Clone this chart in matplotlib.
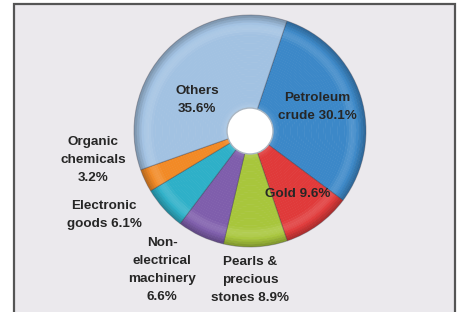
import numpy as np
import matplotlib
matplotlib.use("Agg")
import matplotlib.pyplot as plt
from matplotlib.patches import Rectangle, Wedge
from matplotlib.colors import to_rgb

labels = ["Petroleum\ncrude 30.1%", "Gold 9.6%", "Pearls &\nprecious\nstones 8.9%",
          "Non-\nelectrical\nmachinery\n6.6%", "Electronic\ngoods 6.1%",
          "Organic\nchemicals\n3.2%", "Others\n35.6%"]
shares = [30.1, 9.6, 8.9, 6.6, 6.1, 3.2, 35.6]
colors = ["#3c88c8", "#e03a3a", "#a8c63c", "#7f5eac", "#2eb0c8", "#f28a26", "#a2c2e2"]
# label anchor points in pixel space (x, y from top)
label_pos = [(317, 107), (298, 194), (250, 280), (162, 270), (104, 215), (93, 160), (197, 100)]

W, H = 461, 312
fig = plt.figure(figsize=(W / 100, H / 100), dpi=100)
fig.patch.set_facecolor("white")

# framed panel
fig.patches.append(Rectangle((14 / W, -0.05), (455 - 14) / W, (H - 3.5) / H + 0.05,
                             transform=fig.transFigure, facecolor="#ebe9ed",
                             edgecolor="#555555", linewidth=1.6, zorder=-5))

ax = fig.add_axes([0, 0, 1, 1])
ax.set_zorder(1)
ax.patch.set_visible(False)
ax.set_xlim(0, W)
ax.set_ylim(0, H)
ax.set_aspect("equal")
ax.axis("off")

cx, cy = 250, H - 131
r_out, r_in = 116, 22


def shade(base, f):
    # flat body, light band then dark rim near the outer edge (bevel look)
    if f < 0.08:
        return np.clip(base + (1 - base) * 0.18 * (1 - f / 0.08), 0, 1)
    if f < 0.80:
        return base
    if f < 0.92:
        k = (f - 0.80) / 0.12
        return np.clip(base + (1 - base) * 0.12 * np.sin(k * np.pi), 0, 1)
    k = (f - 0.92) / 0.08
    return base * (1 - 0.25 * k)


total = sum(shares)
angle = 90 - 18.5
n_rings = 40
for share, col in zip(shares, colors):
    sweep = share / total * 360
    t1, t2 = angle - sweep, angle
    base = np.array(to_rgb(col))
    for i in range(n_rings):
        ra = r_in + (r_out - r_in) * i / n_rings
        rb = r_in + (r_out - r_in) * (i + 1) / n_rings
        f = (i + 0.5) / n_rings
        ax.add_patch(Wedge((cx, cy), rb, t1, t2, width=rb - ra + 0.5,
                           facecolor=shade(base, f), edgecolor="none"))
    ax.add_patch(Wedge((cx, cy), r_out, t1, t2, width=r_out - r_in,
                       facecolor="none", edgecolor=(0.2, 0.2, 0.25, 0.35), linewidth=0.7))
    angle -= sweep

ax.add_patch(Wedge((cx, cy), r_in + 1, 0, 360, facecolor="white",
                   edgecolor="#aab6c2", linewidth=1.0))

for lab, (px, py) in zip(labels, label_pos):
    ax.text(px, H - py, lab, ha="center", va="center", fontsize=9.7,
            fontweight="bold", color="#262626", family="Liberation Sans",
            linespacing=1.68)

fig.savefig("out.png", dpi=100)
